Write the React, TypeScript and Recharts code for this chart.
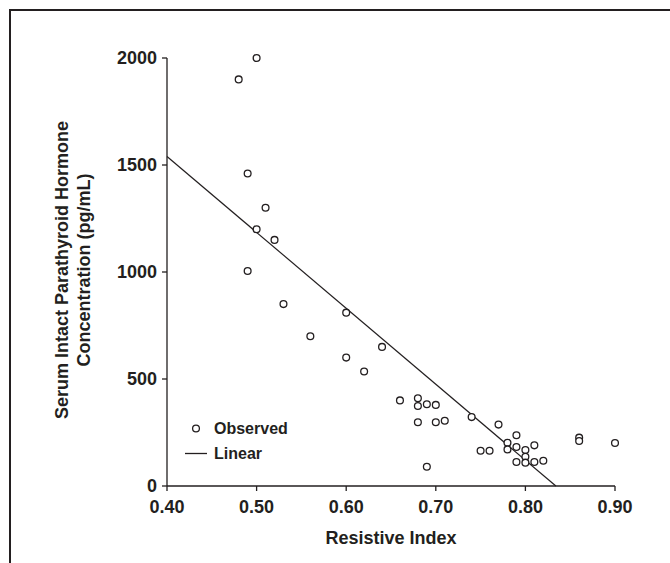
import { ComposedChart, Scatter, XAxis, YAxis, Label } from 'recharts';

// Resistive index (x) vs serum intact PTH (y)
const resistiveIndex = [
  0.48, 0.5, 0.49, 0.51, 0.5, 0.52, 0.49, 0.53, 0.56, 0.6, 0.6, 0.62, 0.64, 0.66,
  0.68, 0.68, 0.69, 0.7, 0.68, 0.7, 0.71, 0.69, 0.74, 0.77, 0.75, 0.76, 0.78, 0.78,
  0.79, 0.79, 0.8, 0.8, 0.81, 0.79, 0.8, 0.81, 0.82, 0.86, 0.86, 0.9,
];
const pthConc = [
  1900, 2000, 1460, 1300, 1200, 1150, 1005, 850, 700, 810, 600, 535, 650, 400,
  410, 374, 382, 379, 298, 298, 305, 90, 322, 287, 165, 165, 202, 171,
  237, 182, 168, 137, 190, 112, 109, 112, 118, 226, 210, 201,
];
// linear fit endpoints
const fitIndex = [0.4, 0.834];
const fitConc = [1540, 0];

const xTicks = [0.4, 0.5, 0.6, 0.7, 0.8, 0.9];
const yTicks = [0, 500, 1000, 1500, 2000];

const observed = resistiveIndex.map((x, i) => ({ x, y: pthConc[i] }));
const linear = fitIndex.map((x, i) => ({ x, y: fitConc[i] }));

const INK = '#231f20';
const FONT = '"Liberation Sans", Arial, Helvetica, sans-serif';

const OpenDot = (props: any) => {
  const { cx, cy } = props;
  if (cx == null || cy == null) return null;
  return <circle cx={cx} cy={cy} r={3.4} fill="#fff" stroke={INK} strokeWidth={1.3} />;
};

const YTitle = () => (
  <text
    transform="rotate(-90, 73, 270)"
    x={73}
    y={270}
    textAnchor="middle"
    fill={INK}
    fontSize={18}
    fontWeight="bold"
    fontFamily={FONT}
  >
    <tspan x={73} dy={-5}>Serum Intact Parathyroid Hormone</tspan>
    <tspan x={73} dy={22}>Concentration (pg/mL)</tspan>
  </text>
);

export default function App() {
  const tick = { fontSize: 18, fontWeight: 'bold', fill: INK, fontFamily: FONT };
  return (
    <div style={{ position: 'absolute', left: 0, top: 0, width: 670, height: 563, background: '#fff', fontFamily: FONT }}>
      <div
        style={{
          position: 'absolute',
          left: 9,
          top: 9,
          width: 661,
          height: 554,
          borderTop: `2px solid ${INK}`,
          borderLeft: `2px solid ${INK}`,
          boxSizing: 'border-box',
        }}
      />
      <ComposedChart
        width={670}
        height={563}
        margin={{ top: 58, right: 55, left: 107, bottom: 37 }}
        style={{ position: 'absolute', left: 0, top: 0 }}
      >
        <XAxis
          dataKey="x"
          type="number"
          domain={[0.4, 0.9]}
          ticks={xTicks}
          tickFormatter={(v: number) => v.toFixed(2)}
          height={40}
          stroke={INK}
          strokeWidth={1.3}
          tickSize={5}
          tickMargin={9}
          tick={tick}
        >
          <Label
            value="Resistive Index"
            position="insideBottom"
            offset={-18}
            style={{ fontSize: 18, fontWeight: 'bold', fill: INK, fontFamily: FONT }}
          />
        </XAxis>
        <YAxis
          dataKey="y"
          type="number"
          domain={[0, 2000]}
          ticks={yTicks}
          width={60}
          stroke={INK}
          strokeWidth={1.3}
          tickSize={5}
          tickMargin={5}
          tick={tick}
          label={<YTitle />}
        />
        <Scatter
          data={linear}
          line={{ stroke: INK, strokeWidth: 1.2 }}
          shape={() => null}
          isAnimationActive={false}
        />
        <Scatter data={observed} shape={<OpenDot />} isAnimationActive={false} />
      </ComposedChart>
      <div style={{ position: 'absolute', left: 180, top: 416, color: INK, fontSize: 16, fontWeight: 'bold', lineHeight: '25px' }}>
        <div style={{ display: 'flex', alignItems: 'center' }}>
          <svg width={34} height={25}>
            <circle cx={16} cy={12.5} r={3.4} fill="#fff" stroke={INK} strokeWidth={1.3} />
          </svg>
          <span>Observed</span>
        </div>
        <div style={{ display: 'flex', alignItems: 'center' }}>
          <svg width={34} height={25}>
            <line x1={5} x2={27} y1={12.5} y2={12.5} stroke={INK} strokeWidth={1.3} />
          </svg>
          <span>Linear</span>
        </div>
      </div>
    </div>
  );
}
